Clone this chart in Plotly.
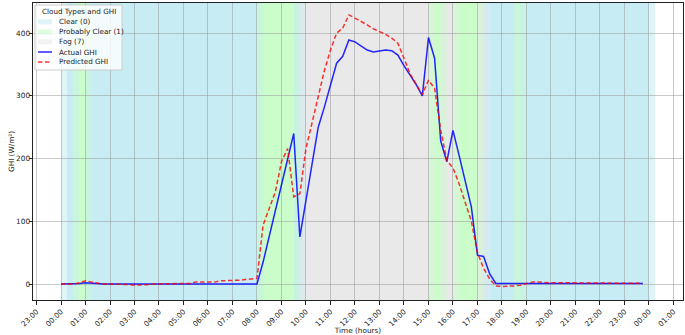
import pandas as pd
import plotly.graph_objects as go

# ---------------- data (15-minute resolution) ----------------
times = pd.date_range("2024-01-01 00:00", periods=96, freq="15min")

# cloud type per 15-min slot: 0 = Clear, 1 = Probably Clear, 7 = Fog
cloud_type = (
    [0, 0, 1, 1]            # 00:00-00:45
    + [0] * 28              # 01:00-07:45
    + [1] * 6               # 08:00-09:15
    + [0]                   # 09:30
    + [7] * 21              # 09:45-14:45
    + [1, 1, 7, 7]          # 15:00-15:45
    + [1, 1, 1, 1]          # 16:00-16:45
    + [7, 0, 0, 0, 0, 0]    # 17:00-18:15
    + [1]                   # 18:30
    + [0] * 21              # 18:45-23:45
)

actual_ghi = [
    0, 0, 0, 1, 2, 1, 0, 0,                 # 00:00-01:45
    0, 0, 0, 0, 0, 0, 0, 0,                 # 02:00-03:45
    0, 0, 0, 0, 0, 0, 0, 0,                 # 04:00-05:45
    0, 0, 0, 0, 0, 0, 0, 0,                 # 06:00-07:45
    0, 35, 75, 115, 155, 200, 240, 75,      # 08:00-09:45
    132, 192, 250, 282, 318, 352, 363, 389, # 10:00-11:45
    386, 380, 373, 370, 372, 373, 372, 365, # 12:00-13:45
    348, 333, 318, 300, 393, 360, 228, 195, # 14:00-15:45
    245, 205, 165, 123, 46, 44, 16, 1,      # 16:00-17:45
    1, 1, 1, 1, 1, 1, 1, 1,                 # 18:00-19:45
    1, 1, 1, 1, 1, 1, 1, 1,                 # 20:00-21:45
    1, 1, 1, 1, 1, 1, 1, 1,                 # 22:00-23:45
]

predicted_ghi = [
    0, 0, 0, 2, 5, 3, 1, 0,                 # 00:00-01:45
    0, 0, 0, -1, -2, -2, -1, 0,             # 02:00-03:45
    0, 0, 0, 0, 0, 1, 3, 3,                 # 04:00-05:45
    2, 3, 5, 5, 5, 6, 7, 8,                 # 06:00-07:45
    9, 94, 120, 147, 195, 216, 139, 144,    # 08:00-09:45
    216, 258, 298, 340, 373, 400, 408, 429, # 10:00-11:45
    424, 419, 413, 407, 403, 398, 392, 384, # 12:00-13:45
    360, 335, 318, 302, 325, 312, 245, 197, # 14:00-15:45
    185, 160, 130, 100, 50, 25, 8, -3,      # 16:00-17:45
    -4, -4, -3, -2, 1, 3, 3, 2,             # 18:00-19:45
    2, 2, 2, 2, 2, 2, 1, 1,                 # 20:00-21:45
    1, 2, 2, 1, 1, 1, 1, 1,                 # 22:00-23:45
]

cloud_names = {0: "Clear (0)", 1: "Probably Clear (1)", 7: "Fog (7)"}
cloud_colors = {0: "rgb(145,218,232)", 1: "rgb(152,251,152)", 7: "rgb(211,211,211)"}
legend_order = [0, 1, 7]

# ---------------- figure ----------------
W, H = 685, 335
L, R, T, B = 33, 2, 3, 35
PW, PH = W - L - R, H - T - B


def fx(px):
    return (px - L) / PW


def fy(py):
    return (H - B - py) / PH


fmt = "%Y-%m-%d %H:%M:%S"
span = pd.Timedelta(minutes=30)
shapes = []
for t, ct in zip(times, cloud_type):
    shapes.append(dict(
        type="rect", xref="x", yref="paper",
        x0=t.strftime(fmt), x1=(t + span).strftime(fmt), y0=0, y1=1,
        fillcolor=cloud_colors[ct], opacity=0.3, line=dict(width=0),
        layer="below",
    ))

fig = go.Figure()
fig.add_trace(go.Scatter(
    x=times, y=actual_ghi, mode="lines", name="Actual GHI",
    line=dict(color="rgba(0,0,255,0.85)", width=1.5), showlegend=False,
))
fig.add_trace(go.Scatter(
    x=times, y=predicted_ghi, mode="lines", name="Predicted GHI",
    line=dict(color="rgba(255,0,0,0.8)", width=1.5, dash="4.5px,2.5px"), showlegend=False,
))

# ---------------- legend (drawn in paper coordinates) ----------------
FONT = "DejaVu Sans"
annotations = []
shapes.append(dict(type="rect", xref="paper", yref="paper",
                   x0=fx(35), x1=fx(122), y0=fy(70), y1=fy(5),
                   fillcolor="rgba(255,255,255,0.8)",
                   line=dict(color="#cccccc", width=1), layer="above"))
annotations.append(dict(xref="paper", yref="paper", x=fx(79), y=fy(11.5),
                        text="Cloud Types and GHI", showarrow=False,
                        xanchor="center", yanchor="middle",
                        font=dict(family=FONT, size=7.2, color="#222")))
rows = [21.8, 31.8, 41.8, 52, 62]
for i, ct in enumerate(legend_order):
    yc = rows[i]
    shapes.append(dict(type="rect", xref="paper", yref="paper",
                       x0=fx(38), x1=fx(52), y0=fy(yc + 2.5), y1=fy(yc - 2.5),
                       fillcolor=cloud_colors[ct], opacity=0.3,
                       line=dict(width=0), layer="above"))
    annotations.append(dict(xref="paper", yref="paper", x=fx(57), y=fy(yc),
                            text=cloud_names[ct], showarrow=False,
                            xanchor="left", yanchor="middle",
                            font=dict(family=FONT, size=7.2, color="#222")))
shapes.append(dict(type="line", xref="paper", yref="paper",
                   x0=fx(38), x1=fx(52), y0=fy(rows[3]), y1=fy(rows[3]),
                   line=dict(color="rgba(0,0,255,0.85)", width=1.5), layer="above"))
annotations.append(dict(xref="paper", yref="paper", x=fx(57), y=fy(rows[3]),
                        text="Actual GHI", showarrow=False, xanchor="left", yanchor="middle",
                        font=dict(family=FONT, size=7.2, color="#222")))
shapes.append(dict(type="line", xref="paper", yref="paper",
                   x0=fx(38), x1=fx(52), y0=fy(rows[4]), y1=fy(rows[4]),
                   line=dict(color="rgba(255,0,0,0.8)", width=1.5, dash="4.5px,2.5px"), layer="above"))
annotations.append(dict(xref="paper", yref="paper", x=fx(57), y=fy(rows[4]),
                        text="Predicted GHI", showarrow=False, xanchor="left", yanchor="middle",
                        font=dict(family=FONT, size=7.2, color="#222")))

x_start = pd.Timestamp("2024-01-01 00:00") - pd.Timedelta(hours=1.143)
x_end = pd.Timestamp("2024-01-01 00:00") + pd.Timedelta(hours=25.39)

grid = "rgba(150,150,150,0.5)"
fig.update_layout(
    width=W, height=H,
    margin=dict(l=L, r=R, t=T, b=B),
    plot_bgcolor="white", paper_bgcolor="white",
    font=dict(family=FONT, size=7.3, color="#222"),
    shapes=shapes, annotations=annotations,
    showlegend=False,
    xaxis=dict(
        type="date", range=[x_start.strftime(fmt), x_end.strftime(fmt)],
        tick0="2024-01-01 00:00:00", dtick=3600000, tickformat="%H:%M",
        tickangle=-45, ticks="outside", ticklen=3.5, tickcolor="#222",
        showline=True, linecolor="#222", linewidth=1, mirror=True,
        showgrid=True, gridcolor=grid, gridwidth=1, zeroline=False,
        tickfont=dict(size=7.3),
        title=dict(text="Time (hours)", font=dict(size=7.3), standoff=2),
        automargin=False,
    ),
    yaxis=dict(
        range=[-25.5, 448], tickvals=[0, 100, 200, 300, 400],
        ticks="outside", ticklen=3.5, tickcolor="#222",
        showline=True, linecolor="#222", linewidth=1, mirror=True,
        showgrid=True, gridcolor=grid, gridwidth=1, zeroline=False,
        tickfont=dict(size=7.3), ticklabelstandoff=-3,
        title=dict(text="GHI (W/m²)", font=dict(size=7.3), standoff=0),
        automargin=False,
    ),
)

fig.write_html(
    "out.html",
    config={"displayModeBar": False},
    post_script="document.body.style.margin='0px';document.body.style.overflow='hidden';",
)
